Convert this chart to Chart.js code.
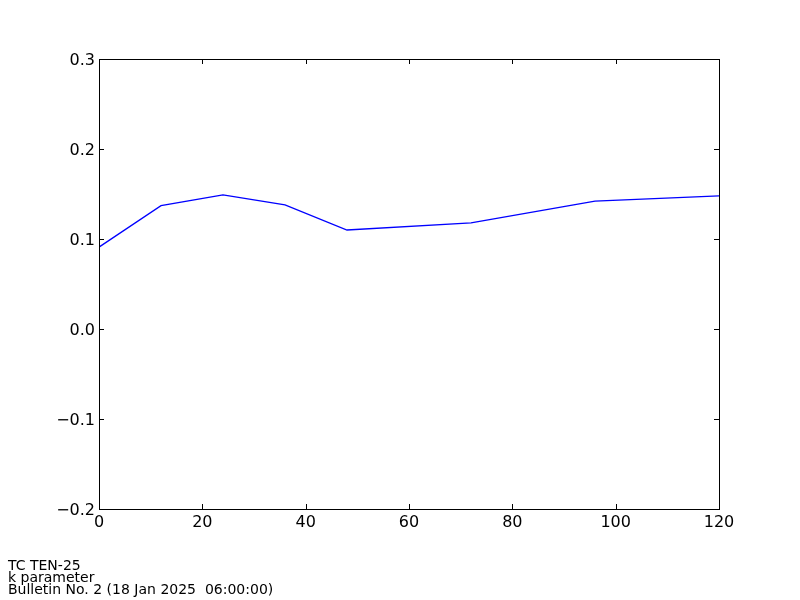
<!DOCTYPE html>
<html>
<head>
<meta charset="utf-8">
<style>
  html, body { margin: 0; padding: 0; background: #fff; }
  #wrap { width: 800px; height: 600px; }
</style>
<script src="https://cdn.jsdelivr.net/npm/chart.js@4/dist/chart.umd.min.js"></script>
</head>
<body>
<div id="wrap"><canvas id="chart" width="800" height="600"></canvas></div>
<script>
// forecast hours and k parameter values
var hours = [0, 12, 24, 36, 48, 72, 96, 120];
var kValues = [0.091, 0.137, 0.149, 0.138, 0.110, 0.118, 0.142, 0.148];
var xTicks = [0, 20, 40, 60, 80, 100, 120];
var yTicks = [-0.2, -0.1, 0.0, 0.1, 0.2, 0.3];
var footerLines = ["TC TEN-25", "k parameter", "Bulletin No. 2 (18 Jan 2025  06:00:00)"];

var FONT = "'DejaVu Sans', sans-serif";

// matplotlib style frame with inward ticks on all four sides
var framePlugin = {
  id: "frame",
  afterDraw: function (chart) {
    var ctx = chart.ctx;
    var area = chart.chartArea;
    var xs = chart.scales.x;
    var ys = chart.scales.y;
    var len = 5;
    ctx.save();
    ctx.strokeStyle = "#000";
    ctx.lineWidth = 1;
    ctx.beginPath();
    xTicks.forEach(function (v) {
      var px = Math.round(xs.getPixelForValue(v)) + 0.5;
      ctx.moveTo(px, area.bottom);
      ctx.lineTo(px, area.bottom - len);
      ctx.moveTo(px, area.top);
      ctx.lineTo(px, area.top + len);
    });
    yTicks.forEach(function (v) {
      var py = Math.round(ys.getPixelForValue(v)) + 0.5;
      ctx.moveTo(area.left, py);
      ctx.lineTo(area.left + len, py);
      ctx.moveTo(area.right, py);
      ctx.lineTo(area.right - len, py);
    });
    ctx.stroke();
    ctx.strokeRect(Math.round(area.left) + 0.5, Math.round(area.top) + 0.5,
      Math.round(area.right - area.left), Math.round(area.bottom - area.top));

    ctx.fillStyle = "#000";
    ctx.font = "14px " + FONT;
    ctx.textBaseline = "alphabetic";
    ctx.textAlign = "left";
    footerLines.forEach(function (t, i) {
      ctx.fillText(t, 8, 570 + i * 12);
    });
    ctx.restore();
  }
};

new Chart(document.getElementById("chart"), {
  type: "line",
  data: {
    labels: hours,
    datasets: [
      {
        data: hours.map(function (h, i) { return { x: h, y: kValues[i] }; }),
        borderColor: "#0000ff",
        borderWidth: 1.3,
        pointRadius: 0,
        tension: 0,
        fill: false
      }
    ]
  },
  options: {
    responsive: false,
    animation: false,
    layout: { padding: { left: 0, top: 59, right: 81, bottom: 61 } },
    plugins: {
      legend: { display: false },
      tooltip: { enabled: false }
    },
    scales: {
      x: {
        type: "linear",
        min: 0,
        max: 120,
        afterFit: function (s) { s.height = 30; },
        afterBuildTicks: function (s) { s.ticks = xTicks.map(function (v) { return { value: v }; }); },
        grid: { display: false, drawTicks: false },
        border: { display: false },
        ticks: {
          color: "#000",
          padding: 4,
          maxRotation: 0,
          font: { family: FONT, size: 16 }
        }
      },
      y: {
        type: "linear",
        min: -0.2,
        max: 0.3,
        afterFit: function (s) { s.width = 99; },
        afterBuildTicks: function (s) { s.ticks = yTicks.map(function (v) { return { value: v }; }); },
        grid: { display: false, drawTicks: false },
        border: { display: false },
        ticks: {
          color: "#000",
          padding: 4,
          labelOffset: 2,
          font: { family: FONT, size: 16 },
          callback: function (v) {
            var s = Math.abs(v).toFixed(1);
            return (v < -1e-9 ? "\u2212" : "") + s;
          }
        }
      }
    }
  },
  plugins: [framePlugin]
});
</script>
</body>
</html>
